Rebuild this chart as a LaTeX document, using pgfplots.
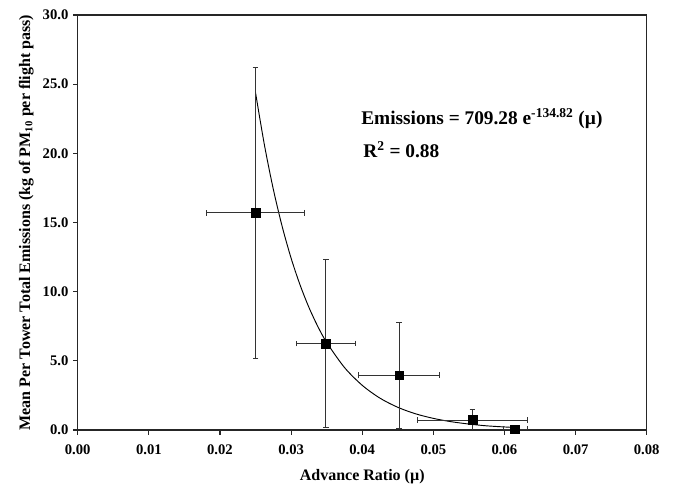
\documentclass[border=0pt]{standalone}
\usepackage{fontspec}
\setmainfont{Liberation Serif}
\usepackage{pgfplots}
\pgfplotsset{compat=1.18}
\begin{document}
\begin{tikzpicture}[x=1pt,y=1pt]
\useasboundingbox (0,0) rectangle (507,363.75);
\begin{axis}[
  at={(58.3pt,41.25pt)}, anchor=south west,
  width=426.75pt, height=311.25pt, scale only axis,
  xmin=0, xmax=0.08, ymin=0, ymax=30,
  xtick={0,0.01,...,0.08}, ytick={0,5,...,30},
  xtick pos=bottom, ytick pos=left, tick align=outside,
  major tick length=3.5pt,
  axis line style={black!85, line width=0.9pt},
  every tick/.style={black!85, line width=0.8pt},
  /pgf/number format/assume math mode=true,
  x tick label style={/pgf/number format/.cd, fixed, fixed zerofill, precision=2, /tikz/.cd, font=\bfseries\fontsize{11}{13}\selectfont, yshift=-4pt},
  y tick label style={/pgf/number format/.cd, fixed, fixed zerofill, precision=1, /tikz/.cd, font=\bfseries\fontsize{11}{13}\selectfont},
  scaled x ticks=false, scaled y ticks=false,
  xlabel={Advance Ratio (µ)},
  ylabel={Mean Per Tower Total Emissions (kg of PM\textsubscript{10} per flight pass)},
  label style={font=\bfseries\fontsize{12}{14}\selectfont},
  xlabel style={yshift=-4pt},
  ylabel style={yshift=0pt},
]
\addplot[black, line width=0.7pt, smooth, no marks] coordinates {
(0.025,24.38) (0.02625,20.60) (0.0275,17.40) (0.02875,14.70) (0.030,12.42)
(0.03125,10.50) (0.0325,8.87) (0.03375,7.49) (0.035,6.33) (0.0375,4.52)
(0.040,3.23) (0.0425,2.30) (0.045,1.64) (0.0475,1.17) (0.050,0.84)
(0.0525,0.60) (0.055,0.43) (0.0575,0.30) (0.060,0.22) (0.0615,0.18)
};
\addplot[only marks, mark=square*, mark size=3.3pt, black,
  error bars/.cd, x dir=both, x explicit, y dir=both, y explicit,
  error bar style={black!80, line width=0.8pt},
  error mark options={rotate=90, mark size=2.2pt, black!80, line width=0.8pt}]
  table[x=x, y=y, x error=ex, y error=ey] {
x y ex ey
0.0250 15.70 0.0069 10.50
0.0349 6.25 0.0041 6.10
0.0452 3.95 0.0057 3.85
0.0555 0.72 0.0077 0.77
0.0615 0.05 0.0017 0.10
};
\node[anchor=base west, font=\bfseries\fontsize{14.5}{16}\selectfont] at (axis cs:0.0392,22.1) {Emissions = 709.28 e\textsuperscript{-134.82} (µ)};
\node[anchor=base west, font=\bfseries\fontsize{14.5}{16}\selectfont] at (axis cs:0.0395,19.7) {R\textsuperscript{2} = 0.88};
\end{axis}
\end{tikzpicture}
\end{document}
